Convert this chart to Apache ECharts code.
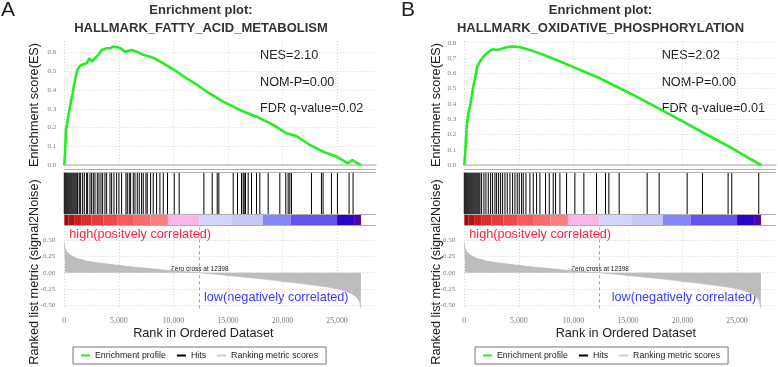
<!DOCTYPE html>
<html>
<head>
<meta charset="utf-8">
<script src="https://cdn.jsdelivr.net/npm/echarts@6/dist/echarts.min.js"></script>
<style>
  html, body { margin: 0; padding: 0; background: #ffffff; }
  #chart { width: 778px; height: 367px; }
</style>
</head>
<body>
<div id="chart"></div>
<script>
  // ---- 数据 ----
  const rankTicks = [0, 5000, 10000, 15000, 20000, 25000]
  const esTicksA = [0, 0.1, 0.2, 0.3, 0.4, 0.5, 0.6]
  const esTicksB = [0, 0.1, 0.2, 0.3, 0.4, 0.5, 0.6, 0.7, 0.8]
  const metricTicks = [-0.5, -0.25, 0, 0.25, 0.5]
  const zeroCross = 12398

  // A: HALLMARK_FATTY_ACID_METABOLISM
  const esRankA = [0, 64, 156, 308, 522, 766, 980, 1193, 1438, 1743, 2048, 2292, 2506, 2812, 3117, 3422, 3880, 4185, 4490, 4948, 5254, 5559, 6170, 6628, 7238, 8153, 9069, 9985, 11207, 12428, 13038, 14564, 16090, 17617, 19143, 20364, 21280, 22501, 23722, 24944, 26012, 26409, 26775, 27200]
  const esValueA = [0, 0.062, 0.187, 0.24, 0.311, 0.383, 0.454, 0.507, 0.529, 0.538, 0.543, 0.57, 0.552, 0.57, 0.588, 0.614, 0.623, 0.623, 0.632, 0.628, 0.62, 0.605, 0.614, 0.605, 0.588, 0.573, 0.543, 0.511, 0.463, 0.418, 0.392, 0.338, 0.294, 0.258, 0.214, 0.169, 0.155, 0.107, 0.071, 0.045, 0.009, 0.027, 0.012, 0]
  const hitsA = [0, 90, 180, 270, 360, 450, 540, 630, 720, 810, 900, 990, 1080, 1170, 1230,
    1377, 1499, 1682, 1835, 2048, 2140, 2354, 2506, 2659, 2812, 3025, 3178, 3361, 3514, 3727, 3880, 4185, 4338, 4552, 4796, 5009, 5254,
    5650, 5772, 5955, 6078, 6322, 6475, 6688, 6871, 7085, 7238, 7482, 7604, 7909, 8153, 8459, 8764, 9070, 9460, 10075, 10530,
    12794, 13557, 14015, 14167, 15480, 15877, 16243, 16396, 16487, 16609, 16853, 17159, 17617, 17922, 18685, 19754,
    20303, 20517, 20670, 20822, 22654, 23570, 23722, 24486, 25035, 26103, 26469]

  // B: HALLMARK_OXIDATIVE_PHOSPHORYLATION
  const esRankB = [0, 122, 214, 366, 520, 672, 824, 977, 1190, 1435, 1740, 2045, 2350, 2655, 2960, 3265, 3880, 4490, 5101, 5712, 6933, 8459, 10291, 12428, 15480, 18532, 21585, 24638, 25859, 27200]
  const esValueB = [0, 0.12, 0.251, 0.338, 0.381, 0.447, 0.512, 0.567, 0.643, 0.676, 0.708, 0.73, 0.748, 0.757, 0.752, 0.757, 0.77, 0.776, 0.77, 0.759, 0.73, 0.687, 0.632, 0.567, 0.458, 0.342, 0.224, 0.105, 0.054, 0]
  const hitsB = [0, 90, 180, 270, 360, 450, 540, 630, 720, 810, 900, 990, 1080, 1170, 1260, 1350, 1435,
    1588, 1801, 1984, 2198, 2412, 2595, 2809, 2961, 3145, 3328, 3511, 3725, 3938, 4183, 4427, 4641, 4854, 5037, 5251, 5404, 5648,
    6014, 6320, 6625, 6930, 7449, 7785, 8151, 8365, 8762, 9373, 10136, 10960, 12120, 12944, 13250, 14196,
    16761, 17860, 20425, 21829, 24180, 24516, 26989]

  // 两个面板共用的排序指标 (signal2Noise)
  const metricRank = [0, 64, 217, 522, 1133, 2048, 2964, 4490, 6017, 7543, 9069, 10596, 12398, 13954, 15480, 18532, 21585, 24027, 25248, 26164, 26775, 27081, 27172, 27200]
  const metricValue = [0.465, 0.378, 0.327, 0.275, 0.223, 0.181, 0.155, 0.124, 0.093, 0.068, 0.042, 0.021, 0, -0.025, -0.051, -0.103, -0.165, -0.217, -0.258, -0.31, -0.373, -0.45, -0.553, -0.553]
  const bandEdges = [0, 400, 900, 1600, 2500, 3600, 4900, 6300, 7900, 9500, 12400, 15300, 18200, 20760, 25000, 26560, 27200]

  // ---- 样式 ----
  const COLOR = {
    es: '#22ee22', hit: '#000000', metric: '#bdbdbd', grid: '#d6d6d6',
    frame: '#b0b0b0', label: '#7a7a7a', text: '#222222', high: '#ff2040', low: '#3a3aff'
  }
  const BAND_COLOR = ['#9a0a0a', '#b41414', '#c82020', '#da2e2e', '#e63c3c', '#ef4a4a', '#f65a5a', '#fb6a6a', '#ff7d7d',
    '#fab6e6', '#d4d4fc', '#c6c6f7', '#8686fb', '#6654ea', '#2a04c8', '#4c04a4']
  const SANS = '"Liberation Sans", Arial, sans-serif'
  const SERIF = '"Liberation Serif", serif'
  const X_MAX = 28570
  const PLOT_W = 311.7

  const panels = [
    {left: 64.3, esMax: 0.662, esTicks: esTicksA, esRank: esRankA, esValue: esValueA, hits: hitsA},
    {left: 464.3, esMax: 0.811, esTicks: esTicksB, esRank: esRankB, esValue: esValueB, hits: hitsB}
  ]

  function zip(a, b) {
    return a.map((v, i) => [v, b[i]])
  }
  function commaNum(v) {
    return String(v).replace(/\B(?=(\d{3})+(?!\d))/g, ',')
  }
  function renderHit(params, api) {
    const top = api.coord([api.value(0), 1])
    const bottom = api.coord([api.value(0), 0])
    return {
      type: 'line',
      shape: {x1: top[0], y1: top[1], x2: bottom[0], y2: bottom[1]},
      style: {stroke: COLOR.hit, lineWidth: 1}
    }
  }
  function renderBand(params, api) {
    const p0 = api.coord([api.value(0), 1])
    const p1 = api.coord([api.value(1), 0])
    return {
      type: 'rect',
      shape: {x: p0[0], y: p0[1], width: p1[0] - p0[0], height: p1[1] - p0[1]},
      style: {fill: BAND_COLOR[params.dataIndex]}
    }
  }
  const frameLine = {color: COLOR.frame, width: 1, type: 'solid'}
  const dotted = {color: COLOR.grid, width: 1, type: [1, 2]}

  let grid = [], xAxis = [], yAxis = [], series = []
  panels.forEach(p => {
    const g = grid.length
    // ES / hits / 色带 / 指标 四个区域
    grid.push({left: p.left, top: 41, width: PLOT_W, height: 124})
    grid.push({left: p.left, top: 169.5, width: PLOT_W, height: 44.8})
    grid.push({left: p.left, top: 214.3, width: PLOT_W, height: 10.7})
    grid.push({left: p.left, top: 225, width: PLOT_W, height: 83.3})
    for (let k = 0; k < 4; k++) {
      xAxis.push({
        type: 'value', gridIndex: g + k, min: 0, max: X_MAX,
        axisLine: {show: k === 0, onZero: false, lineStyle: {color: '#c4c4c4', width: 1.5}},
        axisTick: {show: false, customValues: rankTicks},
        axisLabel: {
          show: k === 3, customValues: rankTicks, formatter: commaNum, margin: 9,
          fontSize: 7.8, fontFamily: SERIF, color: COLOR.label
        },
        splitLine: {show: k === 0 || k === 3, lineStyle: dotted}
      })
    }
    yAxis.push({
      type: 'value', gridIndex: g, min: 0, max: p.esMax,
      axisLine: {show: false}, axisTick: {show: false, customValues: p.esTicks},
      axisLabel: {customValues: p.esTicks, formatter: v => v.toFixed(1), fontSize: 7, fontFamily: SERIF, color: COLOR.label, margin: 8},
      splitLine: {show: true, lineStyle: dotted}
    })
    yAxis.push({type: 'value', gridIndex: g + 1, min: 0, max: 1.06, show: false})
    yAxis.push({type: 'value', gridIndex: g + 2, min: 0, max: 1, show: false})
    yAxis.push({
      type: 'value', gridIndex: g + 3, min: -0.553, max: 0.741,
      axisLine: {show: false}, axisTick: {show: false, customValues: metricTicks},
      axisLabel: {customValues: metricTicks, formatter: v => v.toFixed(2), fontSize: 7, fontFamily: SERIF, color: COLOR.label, margin: 9},
      splitLine: {show: true, lineStyle: dotted}
    })

    series.push({
      name: 'Enrichment profile', type: 'line', xAxisIndex: g, yAxisIndex: g,
      data: zip(p.esRank, p.esValue), showSymbol: false, symbol: 'none',
      itemStyle: {color: COLOR.es}, lineStyle: {color: COLOR.es, width: 2.6}, z: 5
    })
    series.push({
      name: 'Hits', type: 'custom', xAxisIndex: g + 1, yAxisIndex: g + 1,
      data: p.hits.map(r => [r, 1]), encode: {x: 0, y: 1}, renderItem: renderHit,
      itemStyle: {color: COLOR.hit},
      markLine: {silent: true, symbol: 'none', label: {show: false}, lineStyle: frameLine, data: [{yAxis: 1.06}, {yAxis: 1}, {yAxis: 0}]}
    })
    series.push({
      name: 'band', type: 'custom', xAxisIndex: g + 2, yAxisIndex: g + 2,
      data: bandEdges.slice(0, -1).map((e, i) => [e, bandEdges[i + 1]]), encode: {x: [0, 1]},
      renderItem: renderBand,
      markLine: {silent: true, symbol: 'none', label: {show: false}, lineStyle: frameLine, data: [{yAxis: 0}]}
    })
    series.push({
      name: 'Ranking metric scores', type: 'line', xAxisIndex: g + 3, yAxisIndex: g + 3,
      data: zip(metricRank, metricValue), showSymbol: false, symbol: 'none',
      itemStyle: {color: '#cfcfcf'}, lineStyle: {color: COLOR.metric, width: 0.8},
      areaStyle: {color: COLOR.metric, opacity: 1},
      markLine: {
        silent: true, symbol: 'none', label: {show: false},
        lineStyle: {color: '#a8a8a8', width: 1, type: [3, 3]}, data: [{xAxis: zeroCross}]
      }
    })
  })

  function legendAt(left) {
    return {
      left: left, top: 347, orient: 'horizontal', selectedMode: false,
      data: ['Enrichment profile', 'Hits', 'Ranking metric scores'],
      icon: 'rect', itemWidth: 9, itemHeight: 2, itemGap: 11, padding: [4, 8],
      borderColor: '#777777', borderWidth: 1, borderRadius: 0,
      textStyle: {fontSize: 8.8, fontFamily: SANS, color: COLOR.text}
    }
  }

  function txt(x, y, text, style) {
    return {type: 'text', x: x, y: y, silent: true,
      style: Object.assign({text: text, fontFamily: SANS, fontSize: 12.7, fill: COLOR.text, textAlign: 'left', textVerticalAlign: 'middle'}, style)}
  }
  function vtxt(x, y, text) {
    return {type: 'text', x: x, y: y, rotation: Math.PI / 2, silent: true,
      style: {text: text, fontFamily: SANS, fontSize: 12.7, fill: COLOR.text, textAlign: 'center', textVerticalAlign: 'middle'}}
  }
  const stats = [['NES=2.10', 'NOM-P=0.00', 'FDR q-value=0.02'], ['NES=2.02', 'NOM-P=0.00', 'FDR q-value=0.01']]
  const titles = ['HALLMARK_FATTY_ACID_METABOLISM', 'HALLMARK_OXIDATIVE_PHOSPHORYLATION']
  const graphic = []
  const panelText = [
    {off: 0, letter: 'A', title: 201, axisX: 34, nes: 260, rankTitle: 203.3, zero: 199.7, low: 204},
    {off: 400, letter: 'B', title: 600.5, axisX: 436, nes: 661.7, rankTitle: 625.8, zero: 600, low: 611.7}
  ]
  panelText.forEach((t, i) => {
    graphic.push(txt(t.off + 1, 10, t.letter, {fontSize: 21}))
    graphic.push(txt(t.title, 10.7, 'Enrichment plot:', {fontSize: 13, fontWeight: 'bold', textAlign: 'center', fill: '#333333'}))
    graphic.push(txt(t.title, 28.3, titles[i], {fontSize: 13, fontWeight: 'bold', textAlign: 'center', fill: '#333333'}))
    graphic.push(txt(t.nes, 55, stats[i][0], {}))
    graphic.push(txt(t.nes, 82, stats[i][1], {}))
    graphic.push(txt(t.nes, 108, stats[i][2], {}))
    graphic.push(vtxt(t.axisX, 105, 'Enrichment score(ES)'))
    graphic.push(vtxt(t.axisX, 272, 'Ranked list metric (signal2Noise)'))
    graphic.push(txt(panels[i].left + 5, 234, 'high(positvely correlated)', {fill: COLOR.high}))
    graphic.push(txt(t.low, 297.7, 'low(negatively correlated)', {fill: COLOR.low}))
    graphic.push(txt(t.zero, 269.3, 'Zero cross at ' + zeroCross, {fontSize: 6.5, textAlign: 'center', fill: '#111111'}))
    graphic.push(txt(t.rankTitle, 333, 'Rank in Ordered Dataset', {textAlign: 'center'}))
  })

  const myChart = echarts.init(document.getElementById('chart'), null, {renderer: 'canvas'})
  myChart.setOption({
    animation: false,
    backgroundColor: '#ffffff',
    grid: grid,
    xAxis: xAxis,
    yAxis: yAxis,
    series: series,
    legend: [legendAt(73), legendAt(475)],
    graphic: graphic
  })
</script>
</body>
</html>
